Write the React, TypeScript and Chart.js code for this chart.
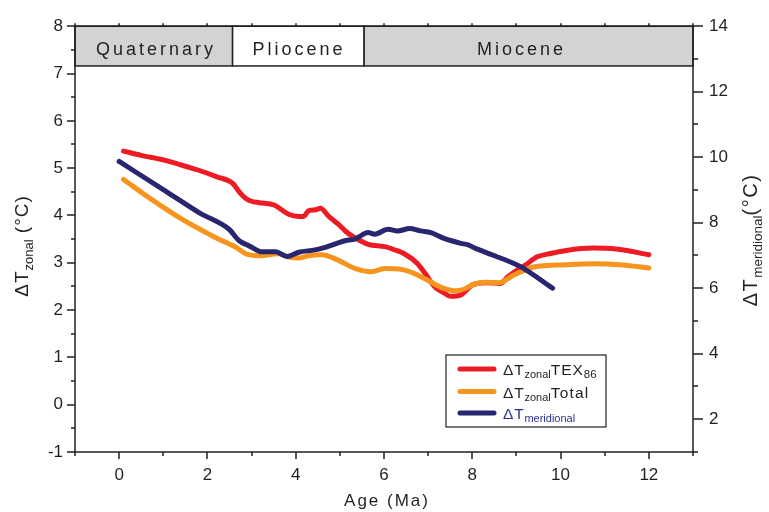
import React, { useEffect, useRef } from 'react';
import { Chart, registerables } from 'chart.js';

Chart.register(...registerables);

// ---- data ----
const texAges = [0.1, 0.5, 1.07, 1.5, 1.82, 2.2, 2.57, 2.72, 2.87, 3.0, 3.17, 3.51, 3.65, 3.85, 4.07, 4.18, 4.29, 4.45, 4.56, 4.75, 4.97, 5.15, 5.34, 5.64, 6.02, 6.25, 6.46, 6.76, 6.95, 7.14, 7.35, 7.51, 7.74, 8.0, 8.3, 8.63, 8.8, 9.01, 9.2, 9.46, 9.8, 10.13, 10.73, 11.26, 12.0];
const texValues = [5.36, 5.27, 5.16, 5.04, 4.95, 4.82, 4.68, 4.5, 4.36, 4.3, 4.27, 4.22, 4.14, 4.02, 3.98, 3.98, 4.1, 4.12, 4.15, 3.98, 3.81, 3.65, 3.53, 3.39, 3.34, 3.27, 3.19, 2.98, 2.75, 2.5, 2.37, 2.29, 2.32, 2.53, 2.58, 2.56, 2.7, 2.84, 2.95, 3.12, 3.2, 3.26, 3.31, 3.29, 3.17];

const totalAges = [0.1, 0.7, 1.44, 2.19, 2.64, 2.87, 3.17, 3.62, 3.84, 4.07, 4.29, 4.59, 4.97, 5.34, 5.71, 6.02, 6.39, 6.69, 6.99, 7.29, 7.59, 7.81, 8.04, 8.3, 8.6, 8.94, 9.39, 10.13, 10.73, 11.33, 12.0];
const totalValues = [4.76, 4.36, 3.91, 3.53, 3.33, 3.19, 3.15, 3.19, 3.12, 3.1, 3.15, 3.17, 3.05, 2.88, 2.81, 2.88, 2.86, 2.77, 2.63, 2.48, 2.41, 2.44, 2.55, 2.59, 2.58, 2.74, 2.91, 2.96, 2.98, 2.96, 2.89];

const meridAges = [0, 1.07, 1.82, 2.49, 2.72, 2.94, 3.24, 3.55, 3.8, 4.07, 4.44, 4.67, 5.12, 5.34, 5.64, 5.79, 6.09, 6.31, 6.58, 6.83, 7.06, 7.36, 7.74, 7.89, 8.1, 8.49, 9.09, 9.82];
const meridValues = [9.87, 8.95, 8.3, 7.8, 7.45, 7.3, 7.11, 7.11, 6.97, 7.1, 7.17, 7.25, 7.45, 7.5, 7.7, 7.65, 7.8, 7.75, 7.82, 7.75, 7.7, 7.52, 7.37, 7.33, 7.2, 7.0, 6.66, 6.0];

const xTickValues = [0, 2, 4, 6, 8, 10, 12];
const yTickValues = [-1, 0, 1, 2, 3, 4, 5, 6, 7, 8];
const y1TickValues = [2, 4, 6, 8, 10, 12, 14];

const epochNames = ['Quaternary', 'Pliocene', 'Miocene'];
const epochStart = [-1, 2.57, 5.55];
const epochEnd = [2.57, 5.55, 13];
const epochLabelAt = [0.8, 4.04, 9.08];
const epochFill = ['#d1d3d4', '#ffffff', '#d1d3d4'];
const bandBottom = 7.16;

const RED = '#ed1c24';
const ORANGE = '#f7941d';
const BLUE = '#27266f';
const INK = '#231f20';
const FONT = '"Liberation Sans", Arial, Helvetica, sans-serif';

type Part = { text: string; size: number; dy?: number; color?: string; spacing?: number };

function partsWidth(ctx: CanvasRenderingContext2D, parts: Part[]) {
  let w = 0;
  for (const p of parts) {
    ctx.font = `${p.size}px ${FONT}`;
    (ctx as any).letterSpacing = `${p.spacing ?? 0}px`;
    w += ctx.measureText(p.text).width;
  }
  (ctx as any).letterSpacing = '0px';
  return w;
}

function drawParts(ctx: CanvasRenderingContext2D, parts: Part[], x: number, y: number, color: string) {
  let cx = x;
  ctx.textAlign = 'left';
  ctx.textBaseline = 'alphabetic';
  for (const p of parts) {
    ctx.font = `${p.size}px ${FONT}`;
    (ctx as any).letterSpacing = `${p.spacing ?? 0}px`;
    ctx.fillStyle = p.color ?? color;
    ctx.fillText(p.text, cx, y + (p.dy ?? 0));
    cx += ctx.measureText(p.text).width;
  }
  (ctx as any).letterSpacing = '0px';
}

const decor = {
  id: 'decor',
  beforeDatasetsDraw(chart: any) {
    const ctx: CanvasRenderingContext2D = chart.ctx;
    const x = chart.scales.x;
    const y = chart.scales.y;
    const top = y.getPixelForValue(8);
    const bot = y.getPixelForValue(bandBottom);
    ctx.save();
    for (let i = 0; i < epochNames.length; i++) {
      const x0 = x.getPixelForValue(epochStart[i]);
      const x1 = x.getPixelForValue(epochEnd[i]);
      ctx.fillStyle = epochFill[i];
      ctx.fillRect(x0, top, x1 - x0, bot - top);
      ctx.strokeStyle = INK;
      ctx.lineWidth = 1.5;
      ctx.strokeRect(x0, top, x1 - x0, bot - top);
      ctx.font = `18px ${FONT}`;
      (ctx as any).letterSpacing = '3px';
      ctx.fillStyle = INK;
      ctx.textAlign = 'center';
      ctx.textBaseline = 'alphabetic';
      ctx.fillText(epochNames[i], x.getPixelForValue(epochLabelAt[i]) + 1.5, top + 29);
    }
    (ctx as any).letterSpacing = '0px';
    ctx.restore();
  },
  afterDraw(chart: any) {
    const ctx: CanvasRenderingContext2D = chart.ctx;
    const { left, right, top, bottom } = chart.chartArea;
    const x = chart.scales.x;
    const y = chart.scales.y;
    const y1 = chart.scales.y1;
    ctx.save();
    ctx.strokeStyle = INK;
    ctx.lineWidth = 1.5;
    ctx.strokeRect(left, top, right - left, bottom - top);
    ctx.beginPath();
    for (let v = -1; v <= 8.001; v += 0.5) {
      const p = Math.round(y.getPixelForValue(v));
      const len = Math.abs(v - Math.round(v)) < 1e-6 ? 8 : 4;
      ctx.moveTo(left - len, p);
      ctx.lineTo(left, p);
    }
    for (let v = 1; v <= 14; v += 1) {
      const p = Math.round(y1.getPixelForValue(v));
      const len = v % 2 === 0 ? 10 : 5;
      ctx.moveTo(right, p);
      ctx.lineTo(right + len, p);
    }
    for (let v = -1; v <= 13; v += 1) {
      const p = Math.round(x.getPixelForValue(v));
      const len = v % 2 === 0 ? 7 : 4;
      ctx.moveTo(p, bottom);
      ctx.lineTo(p, bottom + len);
      ctx.moveTo(p, top);
      ctx.lineTo(p, top - 3);
    }
    ctx.stroke();

    // axis titles
    ctx.fillStyle = INK;
    ctx.font = `17px ${FONT}`;
    (ctx as any).letterSpacing = '2px';
    ctx.textAlign = 'center';
    ctx.textBaseline = 'alphabetic';
    ctx.fillText('Age (Ma)', 387, 506);
    (ctx as any).letterSpacing = '0px';

    const leftTitle: Part[] = [
      { text: 'ΔT', size: 19, spacing: 1 },
      { text: 'zonal', size: 13, dy: 5 },
      { text: ' (°C)', size: 19, spacing: 1 },
    ];
    const lw = partsWidth(ctx, leftTitle);
    ctx.save();
    ctx.translate(28, 246);
    ctx.rotate(-Math.PI / 2);
    drawParts(ctx, leftTitle, -lw / 2, 0, INK);
    ctx.restore();

    const rightTitle: Part[] = [
      { text: 'ΔT', size: 20, spacing: 1.5 },
      { text: 'meridional', size: 13.5, dy: 5 },
      { text: '(°C)', size: 20, spacing: 1.5 },
    ];
    const rw = partsWidth(ctx, rightTitle);
    ctx.save();
    ctx.translate(757, 240);
    ctx.rotate(-Math.PI / 2);
    drawParts(ctx, rightTitle, -rw / 2, 0, INK);
    ctx.restore();

    // legend
    const bx = 446, by = 355, bw = 160, bh = 72;
    ctx.fillStyle = '#ffffff';
    ctx.fillRect(bx, by, bw, bh);
    ctx.lineWidth = 1.2;
    ctx.strokeStyle = INK;
    ctx.strokeRect(bx, by, bw, bh);
    const rows: { color: string; parts: Part[]; textColor: string }[] = [
      { color: RED, textColor: INK, parts: [{ text: 'ΔT', size: 15.5, spacing: 0.8 }, { text: 'zonal', size: 11, dy: 3 }, { text: 'TEX', size: 15.5, spacing: 1 }, { text: '86', size: 11.5, dy: 3 }] },
      { color: ORANGE, textColor: INK, parts: [{ text: 'ΔT', size: 15.5, spacing: 0.8 }, { text: 'zonal', size: 11, dy: 3 }, { text: 'Total', size: 15.5, spacing: 1.2 }] },
      { color: BLUE, textColor: '#2e3192', parts: [{ text: 'ΔT', size: 15.5, spacing: 0.8 }, { text: 'meridional', size: 11, dy: 3 }] },
    ];
    const rowY = [369, 391.5, 413];
    rows.forEach((r, i) => {
      ctx.strokeStyle = r.color;
      ctx.lineWidth = 5;
      ctx.lineCap = 'round';
      ctx.beginPath();
      ctx.moveTo(460, rowY[i]);
      ctx.lineTo(494, rowY[i]);
      ctx.stroke();
      drawParts(ctx, r.parts, 503, rowY[i] + 6, r.textColor);
    });
    ctx.restore();
  },
};

export default function App() {
  const ref = useRef<HTMLCanvasElement>(null);
  useEffect(() => {
    document.body.style.margin = '0';
    const canvas = ref.current!;
    const tickFont = { family: FONT, size: 17 };
    const chart = new Chart(canvas, {
      type: 'line',
      data: {
        datasets: [
          {
            label: 'ΔT meridional',
            data: meridAges.map((a, i) => ({ x: a, y: meridValues[i] })),
            borderColor: BLUE,
            borderWidth: 5,
            pointRadius: 0,
            yAxisID: 'y1',
            cubicInterpolationMode: 'monotone',
            borderCapStyle: 'round',
            borderJoinStyle: 'round',
          },
          {
            label: 'ΔT zonal Total',
            data: totalAges.map((a, i) => ({ x: a, y: totalValues[i] })),
            borderColor: ORANGE,
            borderWidth: 5,
            pointRadius: 0,
            yAxisID: 'y',
            cubicInterpolationMode: 'monotone',
            borderCapStyle: 'round',
            borderJoinStyle: 'round',
          },
          {
            label: 'ΔT zonal TEX86',
            data: texAges.map((a, i) => ({ x: a, y: texValues[i] })),
            borderColor: RED,
            borderWidth: 5,
            pointRadius: 0,
            yAxisID: 'y',
            cubicInterpolationMode: 'monotone',
            borderCapStyle: 'round',
            borderJoinStyle: 'round',
          },
        ],
      },
      options: {
        responsive: false,
        animation: false,
        devicePixelRatio: 1,
        layout: { padding: { top: 18, left: 0, right: 0, bottom: 0 } },
        plugins: { legend: { display: false }, tooltip: { enabled: false } },
        scales: {
          x: {
            type: 'linear',
            min: -1,
            max: 13,
            afterBuildTicks: (s: any) => { s.ticks = xTickValues.map((v) => ({ value: v })); },
            afterFit: (s: any) => { s.height = 60; },
            grid: { display: false, drawTicks: false },
            border: { display: false },
            ticks: { padding: 13, font: tickFont, color: INK, maxRotation: 0, autoSkip: false },
          },
          y: {
            type: 'linear',
            position: 'left',
            min: -1,
            max: 8,
            afterBuildTicks: (s: any) => { s.ticks = yTickValues.map((v) => ({ value: v })); },
            afterFit: (s: any) => { s.width = 75; },
            grid: { display: false, drawTicks: false },
            border: { display: false },
            ticks: { padding: 12, font: tickFont, color: INK, autoSkip: false },
          },
          y1: {
            type: 'linear',
            position: 'right',
            min: 1,
            max: 14,
            afterBuildTicks: (s: any) => { s.ticks = y1TickValues.map((v) => ({ value: v })); },
            afterFit: (s: any) => { s.width = 76; },
            grid: { display: false, drawTicks: false },
            border: { display: false },
            ticks: { padding: 16, font: tickFont, color: INK, autoSkip: false },
          },
        },
      },
      plugins: [decor],
    } as any);
    return () => chart.destroy();
  }, []);
  return (
    <div style={{ width: 769, height: 512 }}>
      <canvas ref={ref} width={769} height={512} style={{ display: 'block', width: 769, height: 512 }} />
    </div>
  );
}
